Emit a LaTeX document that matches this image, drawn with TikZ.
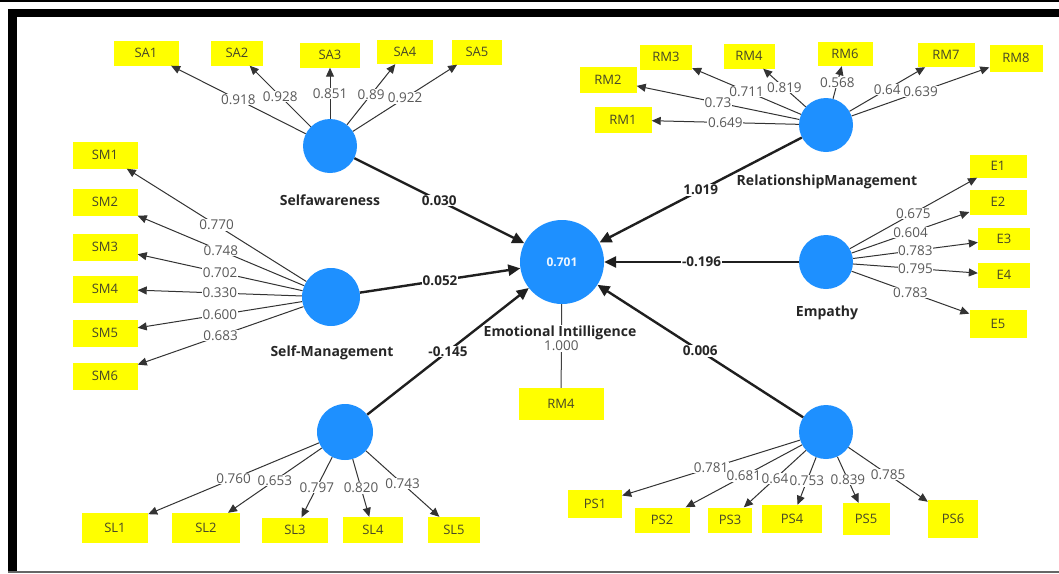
\documentclass[tikz,border=0pt]{standalone}
\usepackage{fontspec}
\setmainfont{Open Sans}
\usetikzlibrary{arrows.meta}
\definecolor{plsblue}{RGB}{30,144,255}
\definecolor{plsyellow}{RGB}{255,255,0}
\definecolor{indtext}{RGB}{70,70,40}
\begin{document}
\begin{tikzpicture}[x=1pt,y=-1pt,
 lvc/.style={circle,fill=plsblue,inner sep=0pt,minimum size=#1},
 ind/.style n args={2}{rectangle,fill=plsyellow,inner sep=0pt,minimum width=#1,minimum height=#2,text=indtext,font=\fontsize{13}{13}\selectfont},
 ldg/.style={draw=black!80,line width=1pt,-{Triangle[length=9pt,width=8pt]}},
 pth/.style={draw=black!88,line width=2.4pt,-{Triangle[length=12pt,width=11pt]}},
 ldl/.style={fill=white,inner sep=0.6pt,text=black!65,font=\fontsize{13.5}{13.5}\selectfont},
 pcl/.style={fill=white,inner sep=0.6pt,text=black!85,font=\bfseries\fontsize{13.5}{13.5}\selectfont},
 cname/.style={text=black!85,font=\bfseries\fontsize{14}{14}\selectfont,inner sep=1pt}]
\useasboundingbox (0,0) rectangle (1059,573);
\fill[white] (0,0) rectangle (1059,573);
% frame
\fill[black] (0,0) rectangle (1059,2);
\fill[black] (8,9) rectangle (1059,17);
\fill[black] (8,9) rectangle (17,573);
\fill[black!60] (8,571) rectangle (1059,573);

% latent variables
\node[lvc=54] (sa) at (330,146) {};
\node[lvc=58] (sm) at (331,297) {};
\node[lvc=56] (sl) at (345,432) {};
\node[lvc=84,text=white!92!plsblue,font=\bfseries\fontsize{12}{12}\selectfont] (ei) at (562,262) {0.701};
\node[lvc=54] (rm) at (826,125) {};
\node[lvc=54] (em) at (826,262) {};
\node[lvc=54] (ps) at (826,432) {};

% indicators
\node[ind={65}{25}] (sa1) at (146,53) {SA1};
\node[ind={52}{25}] (sa2) at (237,53) {SA2};
\node[ind={60}{25}] (sa3) at (330,55) {SA3};
\node[ind={56}{24}] (sa4) at (405,52) {SA4};
\node[ind={50}{25}] (sa5) at (477,52) {SA5};

\node[ind={57}{26}] (rm1) at (623,120) {RM1};
\node[ind={57}{26}] (rm2) at (608,80) {RM2};
\node[ind={52}{25}] (rm3) at (666,57) {RM3};
\node[ind={51}{25}] (rm4) at (749,56) {RM4};
\node[ind={55}{24}] (rm6) at (845,54) {RM6};
\node[ind={57}{24}] (rm7) at (946,55) {RM7};
\node[ind={53}{27}] (rm8) at (1016,58) {RM8};

\node[ind={65}{27}] (sm1) at (105,155) {SM1};
\node[ind={65}{27}] (sm2) at (105,202) {SM2};
\node[ind={65}{27}] (sm3) at (105,247) {SM3};
\node[ind={65}{27}] (sm4) at (105,289) {SM4};
\node[ind={65}{27}] (sm5) at (105,333) {SM5};
\node[ind={65}{27}] (sm6) at (105,376) {SM6};

\node[ind={57}{23}] (e1) at (998,166) {E1};
\node[ind={57}{25}] (e2) at (998,202) {E2};
\node[ind={52}{22}] (e3) at (1004,239) {E3};
\node[ind={52}{25}] (e4) at (1004,275) {E4};
\node[ind={57}{28}] (e5) at (998,324) {E5};

\node[ind={66}{30}] (sl1) at (115,528) {SL1};
\node[ind={68}{30}] (sl2) at (206,528) {SL2};
\node[ind={66}{25}] (sl3) at (295,530) {SL3};
\node[ind={60}{26}] (sl4) at (373,530) {SL4};
\node[ind={52}{26}] (sl5) at (454,530) {SL5};

\node[ind={54}{28}] (ps1) at (595,504) {PS1};
\node[ind={55}{25}] (ps2) at (662,520) {PS2};
\node[ind={44}{25}] (ps3) at (730,520) {PS3};
\node[ind={60}{28}] (ps4) at (792,519) {PS4};
\node[ind={47}{32}] (ps5) at (866,519) {PS5};
\node[ind={50}{38}] (ps6) at (953,519) {PS6};

\node[ind={85}{32}] (eirm4) at (561,404) {RM4};

% loadings
\draw[ldg] (sa) -- node[ldl]{0.918} (sa1);
\draw[ldg] (sa) -- node[ldl]{0.928} (sa2);
\draw[ldg] (sa) -- node[ldl]{0.851} (sa3);
\draw[ldg] (sa) -- node[ldl]{0.89} (sa4);
\draw[ldg] (sa) -- node[ldl]{0.922} (sa5);

\draw[ldg] (rm) -- node[ldl]{0.649} (rm1);
\draw[ldg] (rm) -- node[ldl]{0.73} (rm2);
\draw[ldg] (rm) -- node[ldl]{0.711} (rm3);
\draw[ldg] (rm) -- node[ldl]{0.819} (rm4);
\draw[ldg] (rm) -- node[ldl]{0.568} (rm6);
\draw[ldg] (rm) -- node[ldl]{0.64} (rm7);
\draw[ldg] (rm) -- node[ldl]{0.639} (rm8);

\draw[ldg] (sm) -- node[ldl]{0.770} (sm1);
\draw[ldg] (sm) -- node[ldl]{0.748} (sm2);
\draw[ldg] (sm) -- node[ldl]{0.702} (sm3);
\draw[ldg] (sm) -- node[ldl]{0.330} (sm4);
\draw[ldg] (sm) -- node[ldl]{0.600} (sm5);
\draw[ldg] (sm) -- node[ldl]{0.683} (sm6);

\draw[ldg] (em) -- node[ldl]{0.675} (e1);
\draw[ldg] (em) -- node[ldl]{0.604} (e2);
\draw[ldg] (em) -- node[ldl]{0.783} (e3);
\draw[ldg] (em) -- node[ldl]{0.795} (e4);
\draw[ldg] (em) -- node[ldl]{0.783} (e5);

\draw[ldg] (sl) -- node[ldl]{0.760} (sl1);
\draw[ldg] (sl) -- node[ldl]{0.653} (sl2);
\draw[ldg] (sl) -- node[ldl]{0.797} (sl3);
\draw[ldg] (sl) -- node[ldl]{0.820} (sl4);
\draw[ldg] (sl) -- node[ldl]{0.743} (sl5);

\draw[ldg] (ps) -- node[ldl]{0.781} (ps1);
\draw[ldg] (ps) -- node[ldl]{0.681} (ps2);
\draw[ldg] (ps) -- node[ldl]{0.64} (ps3);
\draw[ldg] (ps) -- node[ldl]{0.753} (ps4);
\draw[ldg] (ps) -- node[ldl]{0.839} (ps5);
\draw[ldg] (ps) -- node[ldl]{0.785} (ps6);

% structural paths
\draw[pth] (sa) -- node[pcl]{0.030} (ei);
\draw[pth] (sm) -- node[pcl]{0.052} (ei);
\draw[pth] (sl) -- node[pcl]{-0.145} (ei);
\draw[pth] (rm) -- node[pcl]{1.019} (ei);
\draw[pth] (em) -- node[pcl]{-0.196} (ei);
\draw[pth] (ps) -- node[pcl]{0.006} (ei);

% EI single indicator
\draw[draw=black!75,line width=1pt] (ei) -- (eirm4);

% construct names
\node[cname] (nsa) at (330,200) {Selfawareness};
\node[cname] (nsm) at (332,353) {Self-Management};
\node[cname] (nrm) at (827,182) {RelationshipManagement};
\node[cname] (nem) at (827,313) {Empathy};
\node[cname,fill=white] (nei) at (560,333) {Emotional Intilligence};
\path (ei) -- node[ldl]{1.000} (eirm4);
\end{tikzpicture}
\end{document}
